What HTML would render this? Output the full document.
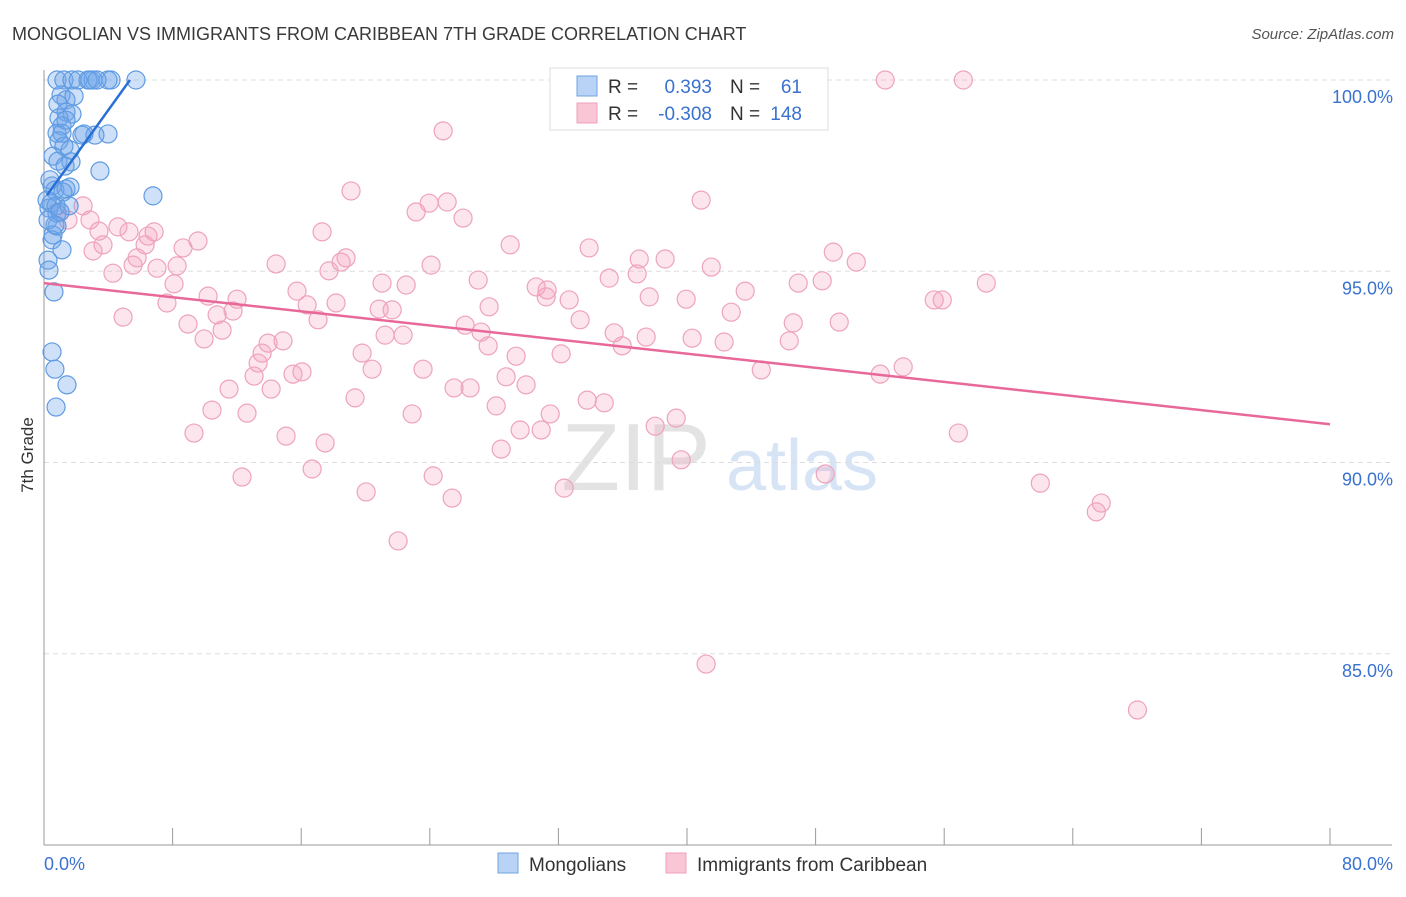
<!DOCTYPE html>
<html><head><meta charset="utf-8"><style>
body{margin:0;background:#fff;font-family:"Liberation Sans",sans-serif;}
svg text{font-family:"Liberation Sans",sans-serif;}
</style></head><body>
<svg id="chart" width="1406" height="892" xmlns="http://www.w3.org/2000/svg">
<text x="12" y="40" font-size="18" fill="#3a3a3a">MONGOLIAN VS IMMIGRANTS FROM CARIBBEAN 7TH GRADE CORRELATION CHART</text>
<text x="1394" y="39" font-size="15" fill="#555" font-style="italic" text-anchor="end">Source: ZipAtlas.com</text>
<text transform="translate(33,455) rotate(-90)" font-size="17" fill="#333" text-anchor="middle">7th Grade</text>
<g>
<text x="636" y="490" font-size="96" fill="#e3e3e3" font-family="Liberation Serif" text-anchor="middle">ZIP</text>
<text x="802" y="490" font-size="72" fill="#d6e4f5" text-anchor="middle">atlas</text>
</g>
<g id="grid"></g><g id="axes"></g><g id="pink"></g><g id="blue"></g><g id="lines"></g>
<g>
<rect x="550" y="68" width="278" height="62" fill="#fff" stroke="#ddd"/>
<rect x="577" y="76" width="20" height="20" fill="#b8d3f5" stroke="#6fa3e3"/>
<rect x="577" y="103" width="20" height="20" fill="#f9c6d6" stroke="#eea0ba"/>
<text x="608" y="93" font-size="19" fill="#333">R =</text>
<text x="712" y="93" font-size="19" fill="#3a72d0" text-anchor="end">0.393</text>
<text x="730" y="93" font-size="19" fill="#333">N =</text>
<text x="802" y="93" font-size="19" fill="#3a72d0" text-anchor="end">61</text>
<text x="608" y="120" font-size="19" fill="#333">R =</text>
<text x="712" y="120" font-size="19" fill="#3a72d0" text-anchor="end">-0.308</text>
<text x="730" y="120" font-size="19" fill="#333">N =</text>
<text x="802" y="120" font-size="19" fill="#3a72d0" text-anchor="end">148</text>
</g>
<g>
<rect x="498" y="853" width="20" height="20" fill="#b8d3f5" stroke="#6fa3e3"/>
<text x="529" y="871" font-size="19" fill="#333">Mongolians</text>
<rect x="666" y="853" width="20" height="20" fill="#f9c6d6" stroke="#eea0ba"/>
<text x="697" y="871" font-size="19" fill="#333">Immigrants from Caribbean</text>
</g>
</svg>
<script>
const yTicks=[100,95,90,85];
const yTickLabels=["100.0%","95.0%","90.0%","85.0%"];
const xTicks=[0,8,16,24,32,40,48,56,64,72,80];
const xEndLabels=["0.0%","80.0%"];
const pinkX=[52.33,57.19,24.83,40.88,19.10,23.96,25.08,23.15,26.07,17.30,2.43,1.00,1.49,2.86,4.60,5.29,3.42,6.47,6.85,3.67,6.29,3.05,5.79,8.65,9.58,4.29,5.54,7.03,8.28,8.09,14.44,18.48,18.79,17.73,29.00,33.91,38.64,35.16,36.90,37.03,41.51,49.10,50.53,24.08,27.01,21.03,22.53,30.62,31.24,32.67,31.30,37.65,39.95,43.62,46.92,48.41,55.38,55.88,58.62,15.74,16.37,18.17,10.21,12.01,7.65,4.92,8.96,9.96,10.77,11.08,11.76,17.05,20.85,21.66,27.69,26.20,27.19,27.63,21.22,22.34,33.35,35.47,35.97,37.46,40.32,42.31,42.75,46.61,46.36,49.47,44.62,52.02,53.45,13.94,14.87,13.57,13.32,13.07,15.49,16.05,19.79,20.41,23.58,29.37,32.17,28.75,25.51,26.51,29.99,11.51,14.13,10.45,12.63,19.35,22.90,28.13,31.49,33.79,34.85,38.02,29.62,30.93,39.33,9.33,15.06,17.49,39.64,28.44,12.32,16.68,24.21,20.04,25.39,32.36,48.60,56.88,61.98,65.77,65.46,22.03,41.19,68.02];
const pinkY=[100,100,98.67,96.86,97.10,96.78,96.81,96.55,96.39,96.03,96.71,96.55,96.34,96.34,96.16,96.03,96.05,95.92,96.03,95.69,95.69,95.53,95.35,95.61,95.79,94.95,95.16,95.08,95.14,94.67,95.19,95.24,95.35,95.01,95.69,95.61,95.32,94.82,94.93,95.32,95.11,95.50,95.24,95.16,94.77,94.69,94.64,94.59,94.33,94.25,94.51,94.33,94.27,94.48,94.69,94.75,94.25,94.25,94.69,94.48,94.12,94.17,94.35,94.27,94.17,93.80,93.62,93.23,93.86,93.46,93.96,93.73,94.01,93.99,94.07,93.59,93.41,93.05,93.33,93.33,93.73,93.39,93.05,93.28,93.25,93.15,93.93,93.65,93.18,93.67,92.42,92.31,92.50,93.12,93.18,92.86,92.60,92.26,92.31,92.37,92.86,92.44,92.44,92.78,92.84,92.24,91.95,91.95,92.03,91.92,91.92,91.37,91.29,91.69,91.27,91.48,91.27,91.63,91.56,90.95,90.85,90.85,91.16,90.77,90.69,90.51,90.07,90.35,89.62,89.83,89.65,89.23,89.07,89.33,89.70,90.77,89.46,88.94,88.71,87.95,84.73,83.53];
const blueX=[0.81,1.24,1.74,2.12,2.86,3.05,4.17,5.72,3.98,1.06,1.37,0.87,1.37,1.74,0.93,1.12,0.81,1.12,0.93,2.49,3.98,3.17,1.62,1.24,0.56,0.87,1.68,1.31,3.48,0.50,0.68,1.37,1.62,1.18,6.78,0.44,0.31,0.75,0.81,1.56,0.25,0.81,0.56,0.50,1.12,0.25,0.31,0.62,0.50,0.68,1.43,0.75,1.00,0.19,1.37,2.74,1.87,0.37,2.36,3.30,0.68];
const blueY=[100,100,100,100,100,100,100,100,100,99.61,99.48,99.37,99.16,99.11,99.01,98.80,98.61,98.61,98.41,98.59,98.59,98.56,98.17,98.27,98.01,97.88,97.86,97.75,97.62,97.23,97.12,97.15,97.20,97.07,96.97,96.78,96.65,96.71,96.52,96.71,96.34,96.18,95.95,95.82,95.56,95.29,95.03,94.46,92.89,92.44,92.03,91.45,96.55,96.86,98.95,100,99.58,97.39,98.56,100,96.21];
const blueTrendX=[0.19,5.35], blueTrendY=[96.99,100];
const pinkTrendX=[0,80], pinkTrendY=[94.69,91.0];

const X0=44,X1=1330,Y100=80,PX_PER=38.25;
const sx=v=>X0+(v/80)*(X1-X0);
const sy=v=>Y100+(100-v)*PX_PER;
const NS="http://www.w3.org/2000/svg";
function mk(tag,parent,attrs){const e=document.createElementNS(NS,tag);for(const k in attrs)e.setAttribute(k,attrs[k]);parent.appendChild(e);return e;}
const grid=document.getElementById('grid'),axes=document.getElementById('axes');
yTicks.forEach((t,i)=>{
  const l=mk('line',grid,{x1:X0,x2:1392,y1:sy(t),y2:sy(t),stroke:'#ddd','stroke-dasharray':'5,4'});
  
  
  const tx=mk('text',grid,{x:1393,y:sy(t)+23,'font-size':18,fill:'#3a72d0','text-anchor':'end'});
  tx.textContent=yTickLabels[i];
  
  
});
const ax=mk('line',axes,{x1:X0,x2:1392,y1:845,y2:845,stroke:'#999'});


const ay=mk('line',axes,{x1:X0,x2:X0,y1:70,y2:845,stroke:'#999'});


xTicks.forEach(t=>{
  const l=mk('line',axes,{x1:sx(t),x2:sx(t),y1:828,y2:845,stroke:'#999'});
  
  
});
const t0=mk('text',axes,{x:44,y:870,'font-size':18,fill:'#3a72d0'});t0.textContent=xEndLabels[0];


const t1=mk('text',axes,{x:1393,y:870,'font-size':18,fill:'#3a72d0','text-anchor':'end'});t1.textContent=xEndLabels[1];


const pg=document.getElementById('pink');
pinkX.forEach((x,i)=>{
  const c=mk('circle',pg,{cx:sx(x),cy:sy(pinkY[i]),r:9,fill:'rgba(246,160,190,0.28)',stroke:'#eea3bc','stroke-width':1.2});
  
  
});
const bg=document.getElementById('blue');
blueX.forEach((x,i)=>{
  const c=mk('circle',bg,{cx:sx(x),cy:sy(blueY[i]),r:9,fill:'rgba(110,165,235,0.33)',stroke:'#5f9be2','stroke-width':1.2});
  
  
});
const lg=document.getElementById('lines');
const bl=mk('line',lg,{x1:sx(blueTrendX[0]),y1:sy(blueTrendY[0]),x2:sx(blueTrendX[1]),y2:sy(blueTrendY[1]),stroke:'#2a6fd6','stroke-width':2.5});


const pl=mk('line',lg,{x1:sx(pinkTrendX[0]),y1:sy(pinkTrendY[0]),x2:sx(pinkTrendX[1]),y2:sy(pinkTrendY[1]),stroke:'#e8689a','stroke-width':2.5});


</script>
</body></html>
